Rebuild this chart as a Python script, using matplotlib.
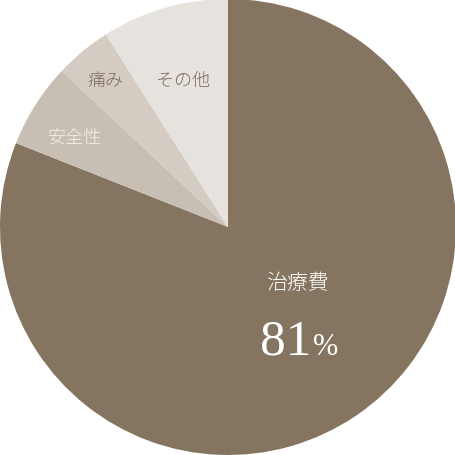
import matplotlib
matplotlib.use("Agg")
import matplotlib.pyplot as plt

# shares of the pie, clockwise from 12 o'clock
labels = ["治療費", "安全性", "痛み", "その他"]
values = [81, 6, 4, 9]
colors = ["#857560", "#c7bfb4", "#d4ccc2", "#e6e2dd"]
big_pct = "81"

plt.rcParams['font.family'] = ['Noto Sans CJK JP', 'DejaVu Sans']

fig = plt.figure(figsize=(4.56, 4.56), dpi=100)
ax = fig.add_axes([0, 0, 1, 1])
ax.pie(values, colors=colors, startangle=90, counterclock=False,
       radius=1.0, wedgeprops=dict(linewidth=0))
ax.set_xlim(-1.0, 1.0)
ax.set_ylim(-1.0, 1.0)
ax.set_aspect('equal')
ax.axis('off')

# slice labels
ax.text(0.303, -0.240, labels[0], color="white", fontsize=15,
        fontweight='light', ha='center', va='center')
ax.text(-0.671, 0.395, labels[1], color="#f4f1ec", fontsize=13,
        fontweight='light', ha='center', va='center')
ax.text(-0.539, 0.645, labels[2], color="#7d6d5a", fontsize=13,
        fontweight='light', ha='center', va='center')
ax.text(-0.197, 0.645, labels[3], color="#7d6d5a", fontsize=13,
        fontweight='light', ha='center', va='center')

# big percentage
ax.text(0.368, -0.557, big_pct, color="white", fontsize=37,
        family='Liberation Serif', ha='right', va='baseline')
ax.text(0.372, -0.557, "%", color="white", fontsize=22,
        family='Liberation Serif', ha='left', va='baseline')

fig.savefig("out.png", dpi=100, facecolor="white")
